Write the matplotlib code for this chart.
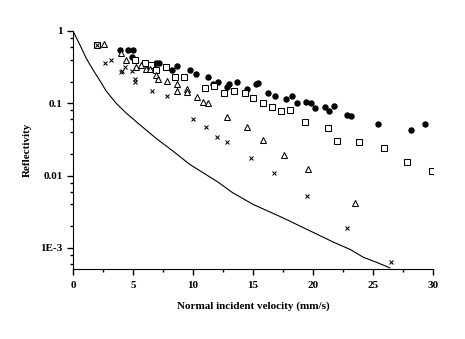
import matplotlib.pyplot as plt
from matplotlib.ticker import FixedLocator, LogLocator, NullFormatter

# Calculated reflectivity curve
CURVE_V = [0, 0.58, 1.1, 1.67, 2.25, 2.75, 3.6, 4.4, 5.6, 6.9, 8.3, 9.75,
           12.0, 13.3, 15.0, 17.5, 19.5, 21.7, 23.1, 24.2, 25.3, 26.4]
CURVE_R = [1.0, 0.64, 0.42, 0.29, 0.205, 0.149, 0.10, 0.074, 0.050, 0.033,
           0.022, 0.0142, 0.0083, 0.0058, 0.0040, 0.0026, 0.0018, 0.0012,
           0.00095, 0.00074, 0.00063, 0.00053]

# Measured data sets
CIRC_V = [3.9, 4.6, 5.0, 4.9, 6.7, 6.9, 7.2, 8.25, 8.7, 9.75, 10.25, 11.25,
          11.7, 12.1, 12.8, 13.0, 13.7, 14.5, 15.25, 15.4, 16.25, 16.8, 17.75,
          18.25, 18.7, 19.4, 19.8, 20.2, 21.0, 21.3, 21.75, 22.8, 23.2, 25.4,
          28.2, 29.3]
CIRC_R = [0.55, 0.55, 0.55, 0.44, 0.34, 0.36, 0.36, 0.29, 0.33, 0.29, 0.255,
          0.23, 0.186, 0.20, 0.17, 0.186, 0.20, 0.16, 0.186, 0.19, 0.14, 0.127,
          0.115, 0.127, 0.10, 0.105, 0.10, 0.087, 0.089, 0.079, 0.093, 0.069,
          0.067, 0.052, 0.043, 0.051]

SQ_V = [2.0, 5.2, 6.0, 6.5, 6.9, 7.75, 8.5, 9.25, 11.0, 11.75, 12.6, 13.4,
        14.3, 15.0, 15.8, 16.6, 17.3, 18.1, 19.3, 21.25, 22.0, 23.8, 25.9,
        27.8, 29.9]
SQ_R = [0.64, 0.40, 0.36, 0.34, 0.29, 0.32, 0.23, 0.23, 0.164, 0.174, 0.14,
        0.149, 0.14, 0.119, 0.10, 0.089, 0.079, 0.081, 0.055, 0.046, 0.030,
        0.029, 0.024, 0.0156, 0.0114]

TRI_V = [2.6, 4.0, 4.4, 5.25, 5.7, 6.1, 6.4, 6.9, 7.1, 7.8, 8.7, 8.7, 9.5,
         9.5, 10.3, 10.8, 11.25, 12.8, 14.5, 15.8, 17.6, 19.6, 23.5]
TRI_R = [0.66, 0.50, 0.40, 0.32, 0.34, 0.30, 0.30, 0.25, 0.22, 0.205, 0.186,
         0.149, 0.16, 0.145, 0.123, 0.105, 0.10, 0.065, 0.047, 0.031, 0.0195,
         0.0125, 0.0042]

X_V = [2.0, 2.7, 3.2, 4.0, 4.1, 4.3, 4.9, 5.2, 5.2, 6.6, 7.8, 10.0, 11.1,
       12.0, 12.8, 14.8, 16.75, 19.5, 22.8, 26.5]
X_R = [0.64, 0.36, 0.40, 0.27, 0.28, 0.32, 0.28, 0.22, 0.20, 0.149, 0.127,
       0.061, 0.047, 0.034, 0.029, 0.0177, 0.011, 0.0053, 0.0019, 0.00063]

Y_TICKS = [1e-3, 1e-2, 1e-1, 1]
Y_LABELS = ['1E-3', '0.01', '0.1', '1']

plt.rcParams['font.family'] = 'Liberation Serif'
plt.rcParams['font.weight'] = 'bold'

fig = plt.figure(figsize=(4.65, 3.39), dpi=100)
ax = fig.add_axes([73 / 465, 1 - 269 / 339, 360 / 465, 238 / 339])

ax.plot(CURVE_V, CURVE_R, color='black', lw=0.8)
ax.plot(CIRC_V, CIRC_R, 'o', ms=3.6, color='black', mec='black')
ax.plot(SQ_V, SQ_R, 's', ms=3.8, mfc='white', mec='black', mew=0.75)
ax.plot(TRI_V, TRI_R, '^', ms=4.5, mfc='white', mec='black', mew=0.75)
ax.plot(X_V, X_R, 'x', ms=3.2, color='black', mew=0.75)

ax.set_yscale('log')
ax.set_xlim(0, 30)
ax.set_ylim(5.1e-4, 1)
ax.set_xticks([0, 5, 10, 15, 20, 25, 30])
ax.xaxis.set_minor_locator(FixedLocator([2.5, 7.5, 12.5, 17.5, 22.5, 27.5]))
ax.set_yticks(Y_TICKS)
ax.set_yticklabels(Y_LABELS)
ax.yaxis.set_minor_locator(LogLocator(base=10, subs=(2, 4, 6, 8)))
ax.yaxis.set_minor_formatter(NullFormatter())

for s in ['top', 'right']:
    ax.spines[s].set_visible(False)
ax.tick_params(which='major', length=4, width=1, labelsize=8)
ax.tick_params(axis='x', which='major', pad=5)
ax.tick_params(which='minor', length=2.5, width=1)

ax.set_xlabel('Normal incident velocity (mm/s)', fontsize=8, fontweight='bold',
              labelpad=8)
ax.set_ylabel('Reflectivity', fontsize=8, fontweight='bold', labelpad=6)

fig.savefig('out.png', dpi=100)
